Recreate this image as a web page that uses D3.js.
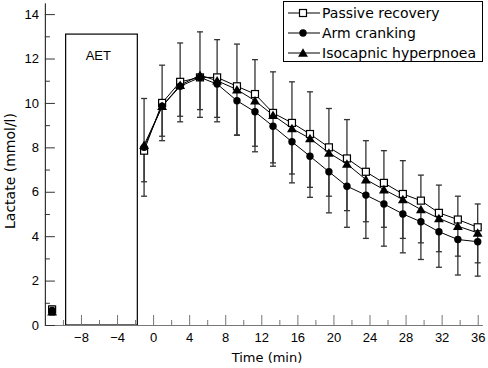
<!DOCTYPE html>
<html>
<head>
<meta charset="utf-8">
<script src="https://cdn.jsdelivr.net/npm/d3@7"></script>
<style>
    body { margin: 0; background: #fff; }
    svg { display: block; }
</style>
</head>
<body>
<svg id="chart" width="488" height="368"></svg>
<script>
// Blood lactate after exercise, three recovery modes (mean ± SD)

// Sample times (min) as plotted
const times = [-1, 1, 3, 5.2, 7.1, 9.3, 11.3, 13.3, 15.4, 17.4, 19.5, 21.5, 23.6, 25.6, 27.7, 29.7, 31.7, 33.8, 36];

// Means (mmol/l)
const passive = [7.85, 10.0, 10.95, 11.15, 11.15, 10.75, 10.4, 9.55, 9.1, 8.6, 8.0, 7.5, 6.9, 6.4, 5.9, 5.6, 5.05, 4.75, 4.4];
const arm = [8.0, 9.85, 10.75, 11.15, 10.85, 10.1, 9.6, 8.95, 8.25, 7.6, 6.9, 6.25, 5.85, 5.45, 5.0, 4.65, 4.2, 3.85, 3.75];
const iso = [8.1, 9.85, 10.8, 11.25, 11.0, 10.6, 10.1, 9.45, 8.85, 8.4, 7.75, 7.25, 6.55, 6.1, 5.65, 5.2, 4.8, 4.45, 4.15];

// SDs (passive drawn upward, the other two downward)
const passiveSD = [2.35, 1.7, 1.75, 2.05, 1.7, 1.9, 1.55, 1.85, 1.85, 1.9, 1.75, 1.75, 1.4, 1.45, 1.5, 1.15, 1.25, 1.05, 1.05];
const armSD = [2.2, 1.55, 1.6, 1.8, 1.7, 1.55, 1.8, 1.8, 1.85, 1.85, 1.85, 1.85, 1.95, 1.9, 1.75, 1.7, 1.6, 1.6, 1.55];
const isoSD = [1.65, 1.35, 1.4, 1.55, 1.65, 2.05, 2.05, 2.15, 2.05, 2.2, 1.95, 2.1, 1.9, 1.7, 1.75, 1.5, 1.5, 1.35, 1.35];

// Resting value before exercise
const restTime = -11.2;
const restValues = { passive: 0.7, arm: 0.65, iso: 0.6 };
const restSD = 0.15;

// Arm exercise test block
const aetStart = -9.7;
const aetEnd = -1.75;
const aetTop = 13.1;

// Axis ticks
const xMajor = [-8, -4, 0, 4, 8, 12, 16, 20, 24, 28, 32, 36];
const xMinor = [-10, -6, -2, 2, 6, 10, 14, 18, 22, 26, 30, 34];
const yMajor = [0, 2, 4, 6, 8, 10, 12, 14];
const yMinor = [1, 3, 5, 7, 9, 11, 13];

const seriesNames = ['Passive recovery', 'Arm cranking', 'Isocapnic hyperpnoea'];

const svg = d3.select('#chart');

const x = d3.scaleLinear().domain([-12, 36.5]).range([44.9, 482.2]);
const y = d3.scaleLinear().domain([0, 14.5]).range([325, 3]);

const tickFont = '"Liberation Sans", Arial, sans-serif';
const textFont = '"DejaVu Sans", sans-serif';

const series = [
    { name: seriesNames[0], values: passive, sd: passiveSD, dir: 1, symbol: 'square', rest: restValues.passive },
    { name: seriesNames[1], values: arm, sd: armSD, dir: -1, symbol: 'circle', rest: restValues.arm },
    { name: seriesNames[2], values: iso, sd: isoSD, dir: -1, symbol: 'triangle', rest: restValues.iso }
];

// AET box
svg.append('rect')
    .attr('x', x(aetStart))
    .attr('y', y(aetTop))
    .attr('width', x(aetEnd) - x(aetStart))
    .attr('height', y(0) - y(aetTop))
    .style('fill', 'none')
    .style('stroke', '#000')
    .style('stroke-width', 1.2);

svg.append('text')
    .attr('x', x(aetStart) + 20)
    .attr('y', 60)
    .style('font-family', tickFont)
    .style('font-size', '13px')
    .text('AET');

// Axes (ticks point inward)
const xAxisG = svg.append('g').attr('transform', `translate(0, ${y(0)})`);
xAxisG.call(d3.axisBottom(x).tickValues(xMajor).tickSize(-10).tickSizeOuter(0).tickPadding(8));
xAxisG.append('g').call(d3.axisBottom(x).tickValues(xMinor).tickSize(-5).tickSizeOuter(0).tickFormat(''));
xAxisG.selectAll('path, line').style('stroke', '#777');
xAxisG.selectAll('text')
    .style('font-family', tickFont)
    .style('font-size', '13px')
    .style('fill', '#000');

const yAxisG = svg.append('g').attr('transform', `translate(${x(-12)}, 0)`);
yAxisG.call(d3.axisLeft(y).tickValues(yMajor).tickSize(-10).tickSizeOuter(0).tickPadding(6));
yAxisG.append('g').call(d3.axisLeft(y).tickValues(yMinor).tickSize(-5).tickSizeOuter(0).tickFormat(''));
yAxisG.selectAll('path, line').style('stroke', '#333');
yAxisG.selectAll('text')
    .style('font-family', tickFont)
    .style('font-size', '13px')
    .style('fill', '#000');

// Axis titles
svg.append('text')
    .attr('x', 267)
    .attr('y', 362)
    .attr('text-anchor', 'middle')
    .style('font-family', textFont)
    .style('font-size', '13px')
    .text('Time (min)');

svg.append('text')
    .attr('transform', 'translate(15, 171) rotate(-90)')
    .attr('text-anchor', 'middle')
    .style('font-family', textFont)
    .style('font-size', '14px')
    .text('Lactate (mmol/l)');

// Marker helper
function drawMarker(g, symbol, cx, cy) {
    if (symbol === 'square') {
        g.append('rect')
            .attr('x', cx - 3.5).attr('y', cy - 3.5)
            .attr('width', 7).attr('height', 7)
            .style('fill', '#fff').style('stroke', '#000').style('stroke-width', 1.2);
    } else if (symbol === 'circle') {
        g.append('circle')
            .attr('cx', cx).attr('cy', cy).attr('r', 3.7)
            .style('fill', '#000');
    } else {
        g.append('path')
            .attr('transform', `translate(${cx}, ${cy + 1})`)
            .attr('d', d3.symbol(d3.symbolTriangle, 42)())
            .style('fill', '#000');
    }
}

// Error bars
const errG = svg.append('g');
series.forEach(s => {
    const pts = times.map((t, i) => ({ t, v: s.values[i], e: s.values[i] + s.dir * s.sd[i] }));
    pts.push({ t: restTime, v: s.rest, e: s.rest + s.dir * restSD });
    pts.forEach(p => {
        errG.append('line')
            .attr('x1', x(p.t)).attr('x2', x(p.t))
            .attr('y1', y(p.v)).attr('y2', y(p.e))
            .style('stroke', '#333').style('stroke-width', 1.3);
        errG.append('line')
            .attr('x1', x(p.t) - 3).attr('x2', x(p.t) + 3)
            .attr('y1', y(p.e)).attr('y2', y(p.e))
            .style('stroke', '#333').style('stroke-width', 1.3);
    });
});

// Lines
const line = d3.line()
    .x(d => x(d.t))
    .y(d => y(d.v));

series.forEach(s => {
    svg.append('path')
        .datum(times.map((t, i) => ({ t, v: s.values[i] })))
        .attr('d', line)
        .style('fill', 'none')
        .style('stroke', '#000')
        .style('stroke-width', 1);
});

// Markers: open squares first, filled circles and triangles drawn over them
const markG = svg.append('g');
series.forEach(s => {
    times.forEach((t, i) => drawMarker(markG, s.symbol, x(t), y(s.values[i])));
    drawMarker(markG, s.symbol, x(restTime), y(s.rest));
});

// Legend
const legend = svg.append('g');
legend.append('rect')
    .attr('x', 283.5).attr('y', 1.5)
    .attr('width', 199).attr('height', 60)
    .style('fill', '#fff')
    .style('stroke', '#000')
    .style('stroke-width', 1);

series.forEach((s, i) => {
    const ly = 13 + i * 20;
    legend.append('line')
        .attr('x1', 288).attr('x2', 320)
        .attr('y1', ly).attr('y2', ly)
        .style('stroke', '#000').style('stroke-width', 1);
    drawMarker(legend, s.symbol, 303, ly);
    legend.append('text')
        .attr('x', 322)
        .attr('y', ly + 5)
        .style('font-family', textFont)
        .style('font-size', '14px')
        .text(s.name);
});
</script>
</body>
</html>
